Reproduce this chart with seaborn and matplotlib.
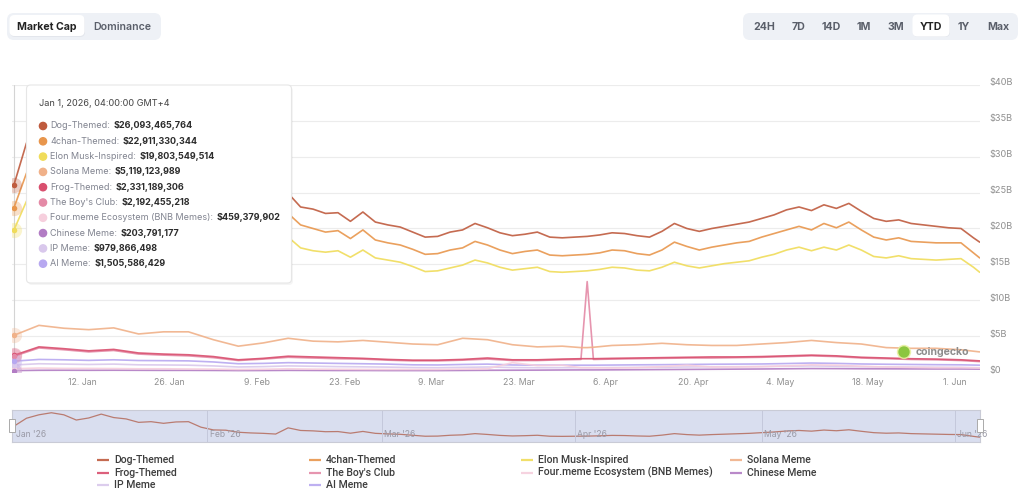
import pandas as pd
import seaborn as sns
import matplotlib.pyplot as plt
import matplotlib.dates as mdates
from matplotlib.patches import FancyBboxPatch, Rectangle, Circle
from matplotlib.transforms import ScaledTranslation, blended_transform_factory

sns.set_theme(style="white")
plt.rcParams['font.family'] = ['Inter', 'DejaVu Sans']

# ---- data (market cap in $B) ----
start = pd.Timestamp("2026-01-01")
big_days = list(range(0, 155, 2)) + [155]
small_days = list(range(0, 89, 4)) + [91, 92, 93] + list(range(96, 153, 4)) + [155]

dog = [26.1, 31.9, 34.4, 35.9, 34.4, 30.6, 32.1, 34.9, 32.4, 31.4,
       28.9, 29.4, 28.2, 29.2, 29.4, 25.4, 23.4, 23.2, 21.7, 21.2,
       20.9, 20.4, 24.9, 23.0, 22.7, 22.1, 22.2, 21.0, 22.3, 20.9,
       20.5, 20.2, 19.5, 18.8, 18.9, 19.5, 19.8, 20.7, 20.1, 19.4,
       19.0, 19.2, 19.5, 18.8, 18.7, 18.8, 18.9, 19.1, 19.4, 19.3,
       19.0, 18.8, 19.6, 20.7, 20.0, 19.6, 20.0, 20.3, 20.6, 20.9,
       21.4, 21.9, 22.6, 23.0, 22.5, 23.3, 22.8, 23.5, 22.4, 21.4,
       21.0, 21.2, 20.7, 20.5, 20.3, 20.1, 20.0, 18.7,
       18.1]
chan = [22.9, 27.7, 30.0, 31.4, 30.1, 26.8, 28.1, 30.6, 28.4, 27.5,
        25.3, 25.8, 24.7, 25.6, 25.8, 22.3, 20.5, 20.3, 19.0, 18.6,
        18.4, 18.0, 22.1, 20.5, 20.0, 19.5, 19.7, 18.6, 19.8, 18.4,
        18.0, 17.7, 17.1, 16.4, 16.5, 17.0, 17.3, 18.2, 17.7, 17.0,
        16.5, 16.8, 17.0, 16.3, 16.2, 16.3, 16.4, 16.6, 17.0, 16.9,
        16.5, 16.3, 17.0, 18.1, 17.5, 17.0, 17.4, 17.7, 18.0, 18.2,
        18.8, 19.3, 19.8, 20.3, 19.8, 20.7, 20.1, 20.9, 19.8, 18.8,
        18.4, 18.7, 18.2, 18.1, 18.0, 18.0, 18.0, 16.6,
        15.9]
elon = [19.8, 23.8, 26.0, 27.3, 26.1, 23.3, 24.4, 26.6, 24.7, 23.9,
        22.0, 22.4, 21.5, 22.2, 22.4, 19.4, 17.9, 17.7, 16.6, 16.2,
        16.0, 15.6, 18.8, 17.3, 16.9, 16.7, 16.9, 16.0, 17.0, 15.9,
        15.6, 15.3, 14.7, 14.0, 14.1, 14.5, 14.9, 15.6, 15.2, 14.6,
        14.2, 14.4, 14.6, 14.0, 13.9, 14.0, 14.1, 14.3, 14.6, 14.5,
        14.2, 14.1, 14.6, 15.3, 14.8, 14.5, 14.8, 15.1, 15.3, 15.5,
        16.0, 16.4, 17.0, 17.4, 16.9, 17.4, 17.0, 17.7, 17.0, 16.1,
        15.9, 16.2, 15.8, 15.7, 15.6, 15.7, 15.8, 14.6,
        13.9]

solana = [5.12, 6.5, 6.1, 5.9, 6.15, 5.3, 5.6, 5.6, 4.5, 3.6,
          4.05, 4.7, 4.3, 4.2, 4.4, 4.15, 3.9, 3.8, 4.7, 4.5,
          3.8, 3.5, 3.6, 3.4, 3.4, 3.45,
          3.7, 3.8, 4.0, 3.8, 3.7, 3.7, 3.9, 4.1, 4.4, 4.1,
          3.9, 3.4, 3.3, 3.3, 3.1, 2.8]
frog = [2.33, 3.5, 3.25, 2.95, 3.15, 2.65, 2.5, 2.4, 2.15, 1.7,
        1.9, 2.2, 2.1, 2.0, 1.9, 1.75, 1.65, 1.65, 1.75, 1.95,
        1.7, 1.7, 1.8, 1.85, 1.85, 1.85,
        1.9, 1.95, 2.0, 2.05, 2.1, 2.1, 2.15, 2.25, 2.35, 2.25,
        2.05, 1.95, 1.85, 1.8, 1.7, 1.55]
boys = [2.19, 3.35, 3.1, 2.8, 3.0, 2.5, 2.35, 2.25, 2.0, 1.6,
        1.8, 2.05, 1.95, 1.85, 1.8, 1.65, 1.55, 1.55, 1.65, 1.8,
        1.6, 1.6, 1.7, 1.75, 12.6, 1.75,
        1.8, 1.85, 1.9, 1.95, 1.95, 2.0, 2.05, 2.15, 2.25, 2.15,
        1.95, 1.85, 1.75, 1.7, 1.6, 1.45]
fourmeme = [0.46, 0.55, 0.5, 0.5, 0.48, 0.45, 0.45, 0.42, 0.4, 0.35,
            0.38, 0.45, 0.4, 0.38, 0.36, 0.35, 0.35, 0.35, 0.4, 0.45,
            1.3, 0.9, 0.95, 0.6, 0.6, 0.6,
            0.55, 0.6, 0.75, 0.95, 0.7, 0.7, 0.75, 0.85, 1.0, 0.95,
            0.8, 0.7, 0.65, 0.6, 0.6, 0.55]
chinese = [0.20, 0.24, 0.25, 0.24, 0.25, 0.24, 0.23, 0.23, 0.22, 0.20,
           0.21, 0.23, 0.22, 0.21, 0.21, 0.20, 0.20, 0.20, 0.22, 0.24,
           0.25, 0.26, 0.28, 0.29, 0.29, 0.29,
           0.30, 0.32, 0.34, 0.36, 0.38, 0.40, 0.42, 0.45, 0.48, 0.47,
           0.45, 0.44, 0.43, 0.42, 0.42, 0.40]
ipmeme = [0.98, 1.15, 1.1, 1.05, 1.1, 1.0, 0.98, 0.95, 0.85, 0.7,
          0.75, 0.85, 0.8, 0.75, 0.72, 0.68, 0.62, 0.6, 0.65, 0.7,
          0.62, 0.6, 0.6, 0.6, 0.6, 0.6,
          0.62, 0.64, 0.66, 0.7, 0.72, 0.74, 0.76, 0.8, 0.85, 0.8,
          0.74, 0.7, 0.68, 0.66, 0.64, 0.6]
aimeme = [1.51, 1.75, 1.7, 1.62, 1.7, 1.6, 1.58, 1.55, 1.4, 1.15,
          1.2, 1.3, 1.25, 1.2, 1.15, 1.1, 1.0, 0.98, 1.05, 1.1,
          0.98, 0.95, 0.95, 0.95, 0.95, 0.95,
          0.97, 1.0, 1.02, 1.05, 1.08, 1.1, 1.12, 1.18, 1.25, 1.2,
          1.12, 1.08, 1.05, 1.02, 1.0, 0.95]

names = ["Dog-Themed", "4chan-Themed", "Elon Musk-Inspired", "Solana Meme", "Frog-Themed",
         "The Boy's Club", "Four.meme Ecosystem (BNB Memes)", "Chinese Meme", "IP Meme", "AI Meme"]
colors = ["#bf5b3e", "#e8964c", "#f0dc5a", "#f0b189", "#d94f6e",
          "#e48aa6", "#f6cfdd", "#b27cc4", "#d9c8ec", "#b7a8f0"]
tip_values = ["$26,093,465,764", "$22,911,330,344", "$19,803,549,514", "$5,119,123,989",
              "$2,331,189,306", "$2,192,455,218", "$459,379,902", "$203,791,177",
              "$979,866,498", "$1,505,586,429"]
big_series = {"Dog-Themed": dog, "4chan-Themed": chan, "Elon Musk-Inspired": elon}
small_series = {"Solana Meme": solana, "Frog-Themed": frog, "The Boy's Club": boys,
                "Four.meme Ecosystem (BNB Memes)": fourmeme, "Chinese Meme": chinese,
                "IP Meme": ipmeme, "AI Meme": aimeme}

rows = []
for name, vals in big_series.items():
    for d, v in zip(big_days, vals):
        rows.append((start + pd.Timedelta(days=d), v * 1e9, name))
for name, vals in small_series.items():
    for d, v in zip(small_days, vals):
        rows.append((start + pd.Timedelta(days=d), v * 1e9, name))
df = pd.DataFrame(rows, columns=["date", "value", "series"])
palette = dict(zip(names, colors))

W, H = 1024, 493
fig = plt.figure(figsize=(W / 100, H / 100), dpi=100)
fig.patch.set_facecolor("white")

x0 = start - pd.Timedelta(days=0.32)
x1 = start + pd.Timedelta(days=155.05)

# ---- main chart ----
ax = fig.add_axes([12 / W, (H - 372) / H, 968 / W, 287 / H])
ax.axvline(start, color="#d4d4d4", lw=0.8, zorder=1)
sns.lineplot(data=df, x="date", y="value", hue="series", hue_order=names[::-1],
             palette=palette, legend=False, errorbar=None, lw=1.2, alpha=0.9, ax=ax)
first = df[df["date"] == start]
for name in names:
    v = first.loc[first["series"] == name, "value"].iloc[0]
    ax.scatter([start], [v], s=120, color=palette[name], alpha=0.3, lw=0, zorder=5)
    ax.scatter([start], [v], s=16, color=palette[name], lw=0, zorder=6)
ax.set_xlim(x0, x1)
ax.set_ylim(0, 40e9)
ax.set_yticks([i * 5e9 for i in range(9)])
ax.set_yticklabels(["$0"] + [f"${i * 5}B" for i in range(1, 9)])
ax.yaxis.tick_right()
ax.tick_params(axis="y", length=0, pad=7, labelsize=6.6, labelcolor="#8f8f8f")
off = ScaledTranslation(0, 3 / 100, fig.dpi_scale_trans)
for lab in ax.get_yticklabels():
    lab.set_transform(lab.get_transform() + off)
ticks = [start + pd.Timedelta(days=11 + 14 * k) for k in range(11)]
ax.set_xticks(ticks)
ax.set_xticklabels([f"{t.day}. {t.strftime('%b')}" for t in ticks])
ax.tick_params(axis="x", length=0, pad=4, labelsize=6.3, labelcolor="#8f8f8f")
ax.set_xlabel("")
ax.set_ylabel("")
ax.grid(axis="y", color="#ececec", lw=0.8)
ax.grid(axis="x", visible=False)
for s in ax.spines.values():
    s.set_visible(False)
ax.set_facecolor("none")

# ---- navigator ----
nav = fig.add_axes([12 / W, (H - 442) / H, 968 / W, 32 / H])
nav.set_facecolor("#d9deef")
nav_df = df[df["series"] == "Dog-Themed"]
sns.lineplot(data=nav_df, x="date", y="value", color="#b46a5a", lw=0.9, alpha=0.85, ax=nav)
nav.set_xlim(x0, x1)
nav.set_ylim(14.6e9, 37.9e9)
nav.set_xticks([])
nav.set_yticks([])
nav.set_xlabel("")
nav.set_ylabel("")
for s in nav.spines.values():
    s.set_color("#c9cbd6")
    s.set_linewidth(0.8)
bt = blended_transform_factory(nav.transData, nav.transAxes)
for m in range(1, 7):
    md = pd.Timestamp(2026, m, 1)
    if m > 1:
        nav.axvline(md, color="#c4c8db", lw=0.7)
    nav.text(md + pd.Timedelta(days=0.4), 0.1, md.strftime("%b '26"), transform=bt,
             fontsize=6.2, color="#9a9aa6", va="bottom", ha="left")

# ---- overlay (pixel coordinates) ----
ov = fig.add_axes([0, 0, 1, 1])
ov.set_xlim(0, W)
ov.set_ylim(H, 0)
ov.axis("off")
ov.set_zorder(10)

def rbox(x, y, w, h, fc, ec="none", r=5, lw=0.8, z=2, alpha=1.0):
    ov.add_patch(FancyBboxPatch((x, y), w, h, boxstyle=f"round,pad=0,rounding_size={r}",
                                fc=fc, ec=ec, lw=lw, zorder=z, alpha=alpha))

# top buttons
rbox(7, 13, 154, 27, "#eef1f6", r=7)
rbox(10, 16, 75, 21, "#e3e6ec", r=5, z=2.5)
rbox(9.5, 15, 75, 21, "white", r=5, z=3)
ov.text(47, 26.5, "Market Cap", fontsize=7.6, weight="bold", color="#222", ha="center", va="center", zorder=4)
ov.text(122, 26.5, "Dominance", fontsize=7.6, weight="semibold", color="#5a5f6a", ha="center", va="center", zorder=4)

rbox(743, 13, 275, 27, "#eef1f6", r=7)
rbox(913, 15, 37, 22, "#e3e6ec", r=5, z=2.5)
rbox(912.5, 14.5, 37, 22, "white", r=5, z=3)
for lbl, cx in zip(["24H", "7D", "14D", "1M", "3M", "YTD", "1Y", "Max"],
                   [764, 798, 831, 864, 896, 931, 964, 998]):
    ov.text(cx, 26.5, lbl, fontsize=7.6, weight="bold",
            color="#222" if lbl == "YTD" else "#5a5f6a", ha="center", va="center", zorder=4)

# tooltip
rbox(28, 87, 265, 198, "#000000", r=4, z=4, alpha=0.04)
rbox(26.5, 85, 265, 198, "white", ec="#e6e6e6", r=4, z=5)
ov.text(39, 103, "Jan 1, 2026, 04:00:00 GMT+4", fontsize=6.6, color="#444", va="center", zorder=6)
renderer = fig.canvas.get_renderer()
for i, (name, val, col) in enumerate(zip(names, tip_values, colors)):
    y = 126 + i * 15.3
    ov.add_patch(Circle((43, y), 3.6, color=col, zorder=6))
    t = ov.text(50.5, y, name + ":", fontsize=6.5, color="#80838f", va="center", zorder=6)
    bb = t.get_window_extent(renderer)
    ov.text(bb.x1 + 3, y, val, fontsize=6.5, weight="bold", color="#2c2c2c", va="center", zorder=6)

# watermark
ov.add_patch(Circle((904, 352), 6.5, color="#e6ef9a", alpha=0.8, zorder=3))
ov.add_patch(Circle((904, 352), 5, color="#8cc63f", zorder=3))
ov.text(916, 352, "coingecko", fontsize=7.6, weight="bold", color="#8d8d8d", va="center", zorder=3)

# navigator handles
for hx in (12, 980):
    ov.add_patch(Rectangle((hx - 3, 419), 6, 13, fc="white", ec="#aaaaaa", lw=0.7, zorder=4))

# legend
col_x = [97, 309, 521, 730]
row_y = [460, 472.5, 485]
for i, (name, col) in enumerate(zip(names, colors)):
    cx = col_x[i % 4]
    cy = row_y[i // 4]
    ov.plot([cx, cx + 12], [cy, cy], color=col, lw=1.6, alpha=0.9, solid_capstyle="butt")
    ov.text(cx + 17, cy, name, fontsize=7.6, weight="medium", color="#3d3d3d", va="center",
            family=["Roboto", "DejaVu Sans"])

fig.savefig("out.png", dpi=100)
